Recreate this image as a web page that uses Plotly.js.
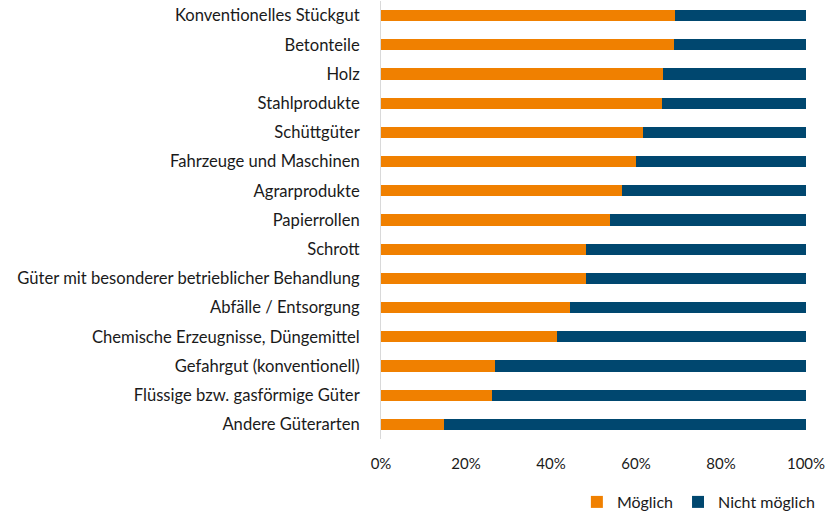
<!DOCTYPE html>
<html>
<head>
<meta charset="utf-8">
<script src="https://cdn.plot.ly/plotly-3.0.1.min.js"></script>
<style>html,body{margin:0;padding:0;background:#fff;}#chart{width:825px;height:519px;}</style>
</head>
<body>
<div id="chart"></div>
<script>
const categories = [
  "Konventionelles Stückgut",
  "Betonteile",
  "Holz",
  "Stahlprodukte",
  "Schüttgüter",
  "Fahrzeuge und Maschinen",
  "Agrarprodukte",
  "Papierrollen",
  "Schrott",
  "Güter mit besonderer betrieblicher Behandlung",
  "Abfälle / Entsorgung",
  "Chemische Erzeugnisse, Düngemittel",
  "Gefahrgut (konventionell)",
  "Flüssige bzw. gasförmige Güter",
  "Andere Güterarten"
];
const moeglich = [69.2, 68.9, 66.4, 66.0, 61.6, 59.9, 56.8, 53.9, 48.3, 48.3, 44.4, 41.5, 26.8, 26.0, 14.8];
const nichtMoeglich = moeglich.map(v => +(100 - v).toFixed(1));
const tickVals = [0, 20, 40, 60, 80, 100];
const tickText = ["0%", "20%", "40%", "60%", "80%", "100%"];

const font = "Lato, 'Open Sans', sans-serif";
const textColor = "#1a1a1a";
const data = [
  {type: "bar", orientation: "h", name: "Möglich", y: categories, x: moeglich,
   marker: {color: "#F08000", line: {width: 0}}, hoverinfo: "x+y"},
  {type: "bar", orientation: "h", name: "Nicht möglich", y: categories, x: nichtMoeglich,
   marker: {color: "#00476F", line: {width: 0}}, hoverinfo: "x+y"}
];
const layout = {
  width: 825, height: 519,
  margin: {l: 381, r: 19, t: 1, b: 80},
  barmode: "stack",
  bargap: 0.62,
  paper_bgcolor: "#fff", plot_bgcolor: "#fff",
  font: {family: font, size: 14, color: textColor},
  xaxis: {range: [0, 100], tickvals: tickVals, ticktext: tickText, showgrid: false,
          zeroline: false, showline: false, ticks: "", ticklabelstandoff: 14,
          ticklabeloverflow: "allow",
          tickfont: {family: font, size: 15, color: textColor}, fixedrange: true},
  yaxis: {type: "category", autorange: "reversed", showgrid: false, zeroline: false,
          showline: true, linecolor: "#d9d9d9", linewidth: 1, ticks: "",
          ticklabelstandoff: 17, tickfont: {family: font, size: 16.6, color: textColor}},
  legend: {orientation: "h", xref: "container", yref: "container", x: 0.995, xanchor: "right",
           y: -0.015, yanchor: "bottom", itemwidth: 30,
           font: {family: font, size: 16, color: textColor}, traceorder: "normal"},
  showlegend: true
};
Plotly.newPlot("chart", data, layout, {displayModeBar: false, staticPlot: true});
</script>
</body>
</html>
